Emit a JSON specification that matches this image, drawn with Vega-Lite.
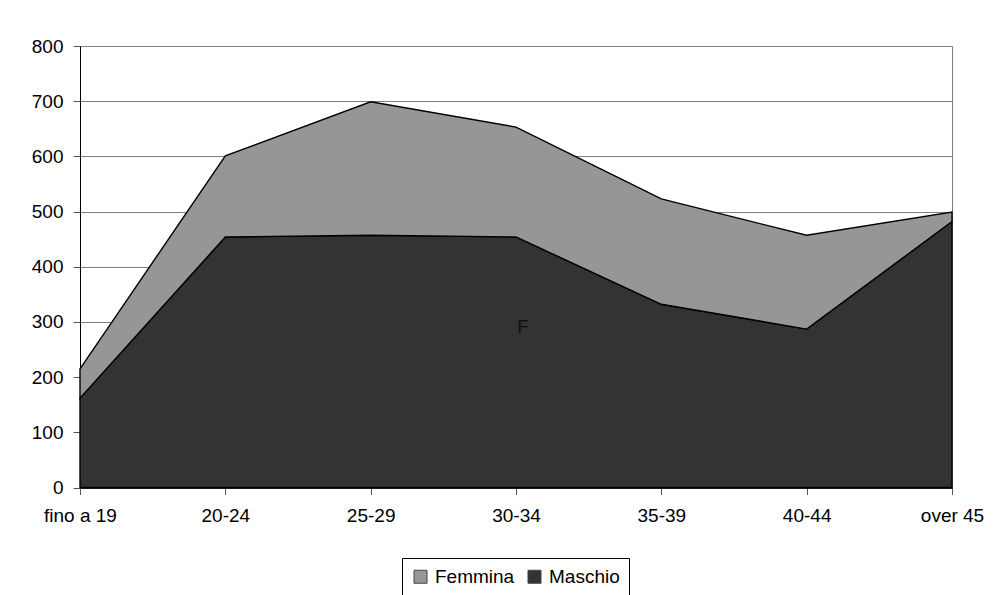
{
  "$schema": "https://vega.github.io/schema/vega-lite/v6.json",
  "autosize": "none",
  "width": 872,
  "height": 441.5,
  "padding": {"left": 80, "top": 46, "right": 47, "bottom": 107.5},
  "background": "white",
  "config": {
    "font": "Liberation Sans",
    "view": {"stroke": "#808080", "strokeWidth": 1},
    "axis": {"labelFont": "Liberation Sans", "labelFontSize": 19, "labelColor": "black", "domainColor": "black", "tickColor": "#555555", "tickSize": 7, "labelPadding": 10}
  },
  "datasets": {
    "serie": [
      {"categoria": "fino a 19", "sesso": "Maschio", "valore": 162},
      {"categoria": "20-24", "sesso": "Maschio", "valore": 454},
      {"categoria": "25-29", "sesso": "Maschio", "valore": 457},
      {"categoria": "30-34", "sesso": "Maschio", "valore": 454},
      {"categoria": "35-39", "sesso": "Maschio", "valore": 332},
      {"categoria": "40-44", "sesso": "Maschio", "valore": 287},
      {"categoria": "over 45", "sesso": "Maschio", "valore": 482},
      {"categoria": "fino a 19", "sesso": "Femmina", "valore": 53},
      {"categoria": "20-24", "sesso": "Femmina", "valore": 147},
      {"categoria": "25-29", "sesso": "Femmina", "valore": 242},
      {"categoria": "30-34", "sesso": "Femmina", "valore": 199},
      {"categoria": "35-39", "sesso": "Femmina", "valore": 191},
      {"categoria": "40-44", "sesso": "Femmina", "valore": 170},
      {"categoria": "over 45", "sesso": "Femmina", "valore": 17}
    ],
    "etichetta": [
      {"categoria": "30-34", "valore": 290, "testo": "F"}
    ]
  },
  "layer": [
    {
      "data": {"name": "serie"},
      "mark": {"type": "area", "stroke": "black", "strokeWidth": 1.4, "opacity": 1},
      "encoding": {
        "x": {
          "field": "categoria", "type": "ordinal",
          "sort": ["fino a 19", "20-24", "25-29", "30-34", "35-39", "40-44", "over 45"],
          "scale": {"type": "point", "padding": 0},
          "axis": {"title": null, "labelAngle": 0, "labelPadding": 12, "domainWidth": 1.5}
        },
        "y": {
          "field": "valore", "type": "quantitative", "stack": "zero",
          "scale": {"domain": [0, 800], "nice": false},
          "axis": {"title": null, "values": [0, 100, 200, 300, 400, 500, 600, 700, 800], "gridColor": "#808080", "gridWidth": 1, "gridOpacity": 1}
        },
        "color": {
          "field": "sesso", "type": "nominal",
          "scale": {"domain": ["Femmina", "Maschio"], "range": ["#969696", "#333333"]},
          "legend": {
            "title": null, "orient": "none", "direction": "horizontal",
            "legendX": 322, "legendY": 512,
            "symbolType": "square", "symbolSize": 169, "symbolStrokeColor": "#444444", "symbolStrokeWidth": 1, "symbolOpacity": 1,
            "labelFont": "Liberation Sans", "labelFontSize": 19, "labelColor": "black", "labelOffset": 5,
            "columnPadding": 10, "padding": 9, "strokeColor": "black", "fillColor": "white"
          }
        },
        "order": {"field": "sesso", "sort": "descending"}
      }
    },
    {
      "data": {"name": "etichetta"},
      "mark": {"type": "text", "font": "Liberation Sans", "fontSize": 19, "color": "#111111", "align": "center", "baseline": "middle", "dx": 7},
      "encoding": {
        "x": {"field": "categoria", "type": "ordinal", "sort": ["fino a 19", "20-24", "25-29", "30-34", "35-39", "40-44", "over 45"]},
        "y": {"field": "valore", "type": "quantitative"},
        "text": {"field": "testo"}
      }
    }
  ]
}
